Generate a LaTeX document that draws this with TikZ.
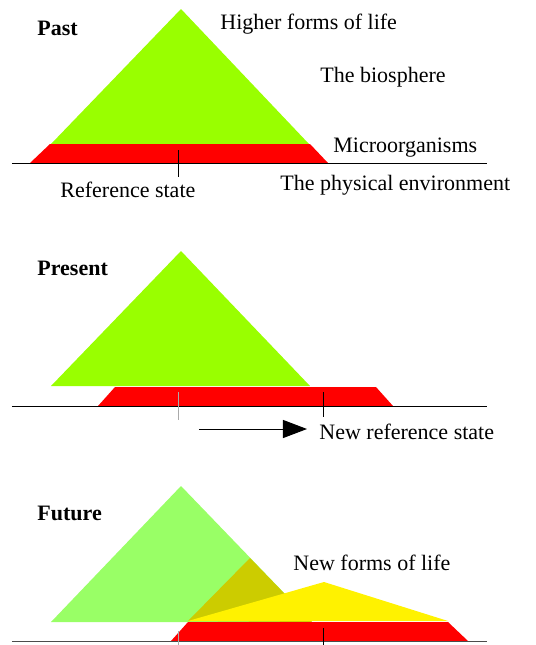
\documentclass[tikz,border=0pt]{standalone}
\usepackage{fontspec}
\setmainfont{Liberation Serif}
\usetikzlibrary{arrows.meta}

\definecolor{lifegreen}{HTML}{99FF00}
\definecolor{fadegreen}{HTML}{99FF66}
\definecolor{mixgreen}{HTML}{CCCC00}
\definecolor{oldtick}{HTML}{AAAAAA}

\begin{document}
\begin{tikzpicture}[x=0.5pt,y=-0.5pt,
  txt/.style={anchor=base west,inner sep=0pt,font=\fontsize{11}{13}\selectfont},
  era/.style={txt,font=\fontsize{11}{13}\selectfont\bfseries},
  ground/.style={line width=0.5pt},
  tick/.style={line width=0.5pt}
]
\useasboundingbox (0,0) rectangle (536,645);

% Past
\fill[lifegreen] (51,144) -- (181,9) -- (309,144) -- cycle;
\fill[red] (30,163) -- (50,144) -- (310,144) -- (328,163) -- cycle;
\draw[ground] (12,163) -- (487,163);
\draw[tick] (179,150) -- (179,177);

\node[era] (past) at (37,35) {Past};
\node[txt] (higher) at (220,29.5) {Higher forms of life};
\node[txt] (biosphere) at (320,82) {The biosphere};
\node[txt] (micro) at (333,152) {Microorganisms};
\node[txt] (physical) at (280,190) {The physical environment};
\node[txt] (refstate) at (60,197) {Reference state};

% Present
\fill[lifegreen] (51,386) -- (181,251) -- (310,386) -- cycle;
\fill[red] (98,406) -- (115,387) -- (376,387) -- (393,406) -- cycle;
\draw[ground] (12,406) -- (487,406);
\draw[tick,oldtick] (179,392) -- (179,420);
\draw[tick] (324,392) -- (324,417);

\coordinate (shiftstart) at (199,429);
\coordinate (shiftend) at (307,429);
\draw[line width=0.5pt,-{Triangle[length=12pt,width=9pt]}] (shiftstart) -- (shiftend);

\node[era] (present) at (37,275) {Present};
\node[txt] (newref) at (319,439) {New reference state};

% Future
\fill[fadegreen] (51,622) -- (181,486) -- (312,622) -- cycle;
\fill[mixgreen] (250,558) -- (188,621) -- (312,622) -- cycle;
\fill[yellow] (188,621) -- (324,582) -- (448,621) -- cycle;
\fill[red] (171,641) -- (188,622) -- (448,622) -- (468,641) -- cycle;
\draw[ground,black!70] (12,641) -- (487,641);
\draw[tick,oldtick] (179,631) -- (179,645);
\draw[tick] (324,628) -- (324,645);

\node[era] (future) at (37,520) {Future};
\node[txt] (newforms) at (293,570) {New forms of life};
\end{tikzpicture}
\end{document}
